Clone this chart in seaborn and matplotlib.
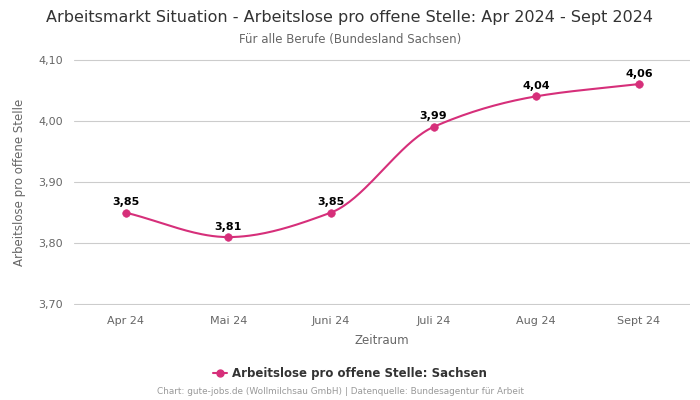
import numpy as np
import pandas as pd
import matplotlib
matplotlib.use("Agg")
import matplotlib.pyplot as plt
from matplotlib.lines import Line2D
import seaborn as sns

months = ["Apr 24", "Mai 24", "Juni 24", "Juli 24", "Aug 24", "Sept 24"]
values = [3.85, 3.81, 3.85, 3.99, 4.04, 4.06]
series_name = "Arbeitslose pro offene Stelle: Sachsen"

color = "#d62f7a"

sns.set_style("white")
plt.rcParams["font.family"] = ["DejaVu Sans"]


def monotone_curve(x, y, n=40):
    # Fritsch-Carlson monotone cubic, only for drawing the smooth line
    x = np.asarray(x, float)
    y = np.asarray(y, float)
    h = np.diff(x)
    d = np.diff(y) / h
    m = np.zeros_like(y)
    m[0], m[-1] = d[0], d[-1]
    for i in range(1, len(y) - 1):
        if d[i - 1] * d[i] <= 0:
            m[i] = 0
        else:
            m[i] = 2 / (1 / d[i - 1] + 1 / d[i])
    xs, ys = [], []
    for i in range(len(h)):
        t = np.linspace(0, 1, n)
        h00 = 2 * t**3 - 3 * t**2 + 1
        h10 = t**3 - 2 * t**2 + t
        h01 = -2 * t**3 + 3 * t**2
        h11 = t**3 - t**2
        xs.append(x[i] + t * h[i])
        ys.append(h00 * y[i] + h10 * h[i] * m[i] + h01 * y[i + 1] + h11 * h[i] * m[i + 1])
    return np.concatenate(xs), np.concatenate(ys)


pos = np.arange(len(months))
cx, cy = monotone_curve(pos, values)
curve = pd.DataFrame({"x": cx, "y": cy})
points = pd.DataFrame({"x": pos, "y": values})

fig, ax = plt.subplots(figsize=(7, 4), dpi=100)
fig.subplots_adjust(left=0.106, right=0.986, top=0.8525, bottom=0.2375)

sns.lineplot(data=curve, x="x", y="y", color=color, linewidth=1.5, ax=ax, sort=False)
sns.scatterplot(data=points, x="x", y="y", color=color, s=30, edgecolor=color, zorder=3, ax=ax)

for x, v in zip(pos, values):
    ax.annotate(f"{v:.2f}".replace(".", ","), (x, v), textcoords="offset points", xytext=(0, 4),
                ha="center", va="bottom", fontsize=8, fontweight="bold", color="black")

ax.set_xlim(-0.5, len(months) - 0.5)
ax.set_ylim(3.699, 4.101)
yt = [3.70, 3.80, 3.90, 4.00, 4.10]
ax.set_yticks(yt)
ax.set_yticklabels([f"{t:.2f}".replace(".", ",") for t in yt])
ax.set_xticks(pos)
ax.set_xticklabels(months)
ax.tick_params(axis="both", length=0, labelsize=8, labelcolor="#666666", pad=8)
ax.grid(axis="y", color="#cccccc", linewidth=0.8)
ax.grid(axis="x", visible=False)
sns.despine(ax=ax, left=True, bottom=True)
ax.set_xlabel("Zeitraum", fontsize=8.5, color="#666666", labelpad=6)
ax.set_ylabel("Arbeitslose pro offene Stelle", fontsize=8.5, color="#666666", labelpad=9)

fig.text(0.5, 0.957, "Arbeitsmarkt Situation - Arbeitslose pro offene Stelle: Apr 2024 - Sept 2024",
         ha="center", va="center", fontsize=11.5, color="#333333")
fig.text(0.5, 0.902, "Für alle Berufe (Bundesland Sachsen)", ha="center", va="center",
         fontsize=8.5, color="#666666")

handle = Line2D([0], [0], color=color, marker="o", markersize=5, linewidth=1.5)
leg = fig.legend([handle], [series_name], loc="center", bbox_to_anchor=(0.5, 0.067),
                 frameon=False, prop={"size": 8.5, "weight": "bold"}, handlelength=1.2,
                 handletextpad=0.4)
for t in leg.get_texts():
    t.set_color("#333333")

fig.text(0.487, 0.02, "Chart: gute-jobs.de (Wollmilchsau GmbH) | Datenquelle: Bundesagentur für Arbeit",
         ha="center", va="center", fontsize=6.4, color="#999999")

fig.savefig("out.png", dpi=100)
